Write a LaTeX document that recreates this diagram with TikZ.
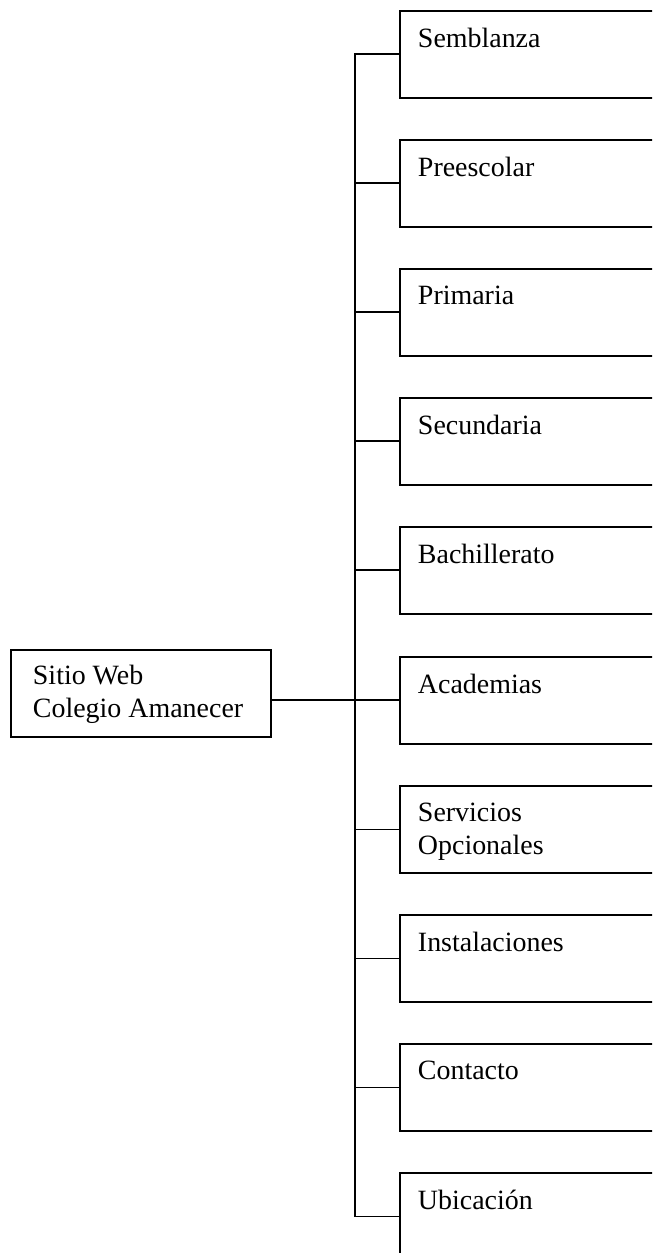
\documentclass[tikz,border=0pt]{standalone}
\usepackage{fontspec}
\setmainfont{Liberation Serif}
\begin{document}
\begin{tikzpicture}[x=0.02cm,y=-0.02cm,line width=1.1pt,
  box/.style={draw,anchor=north west,minimum width=5.8cm,minimum height=1.74cm,inner sep=0pt},
  txt/.style={anchor=north west,inner sep=0pt,align=left,xshift=0.36cm,yshift=-0.34cm,
    font=\fontsize{15.9}{18.8}\selectfont}]
\useasboundingbox (0,0) rectangle (652,1253);
\clip (0,0) rectangle (652,1253);
\node[box,minimum width=5.2cm,label={[txt,xshift=0.08cm,yshift=0.03cm]north west:Sitio Web\\Colegio Amanecer}] (root) at (10,649) {};
\node[box,label={[txt]north west:Semblanza}] (sembl) at (399,10) {};
\node[box,label={[txt]north west:Preescolar}] (presc) at (399,139) {};
\node[box,label={[txt]north west:Primaria}] (prim) at (399,268) {};
\node[box,label={[txt]north west:Secundaria}] (secun) at (399,397) {};
\node[box,label={[txt]north west:Bachillerato}] (bach) at (399,526) {};
\node[box,label={[txt]north west:Academias}] (acad) at (399,656) {};
\node[box,label={[txt]north west:Servicios\\Opcionales}] (serv) at (399,785) {};
\node[box,label={[txt]north west:Instalaciones}] (inst) at (399,914) {};
\node[box,label={[txt]north west:Contacto}] (cont) at (399,1043) {};
\node[box,label={[txt]north west:Ubicación}] (ubic) at (399,1172) {};
\coordinate (trunk) at (355,0);
% tronco y ramas
\draw (sembl.west) -- (trunk |- sembl.west) -- (trunk |- ubic.west) -- (ubic.west);
\draw (trunk |- presc.west) -- (presc.west);
\draw (trunk |- prim.west) -- (prim.west);
\draw (trunk |- secun.west) -- (secun.west);
\draw (trunk |- bach.west) -- (bach.west);
\draw (root.east |- acad.west) -- (acad.west);
\draw (trunk |- serv.west) -- (serv.west);
\draw (trunk |- inst.west) -- (inst.west);
\draw (trunk |- cont.west) -- (cont.west);
\end{tikzpicture}
\end{document}
